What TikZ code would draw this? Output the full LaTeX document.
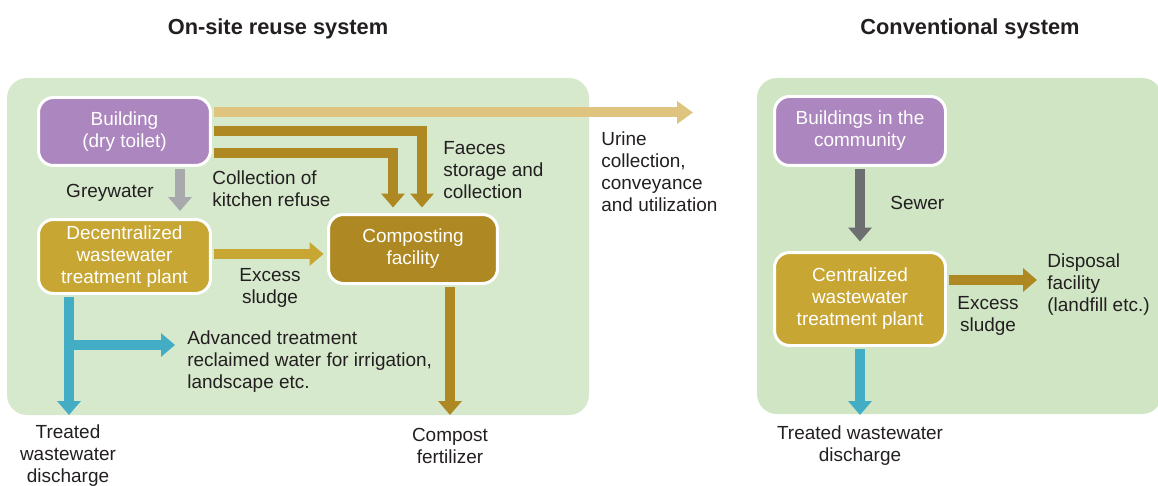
\documentclass[tikz,border=0pt]{standalone}
\usepackage{fontspec}
\setmainfont{Liberation Sans}
\usetikzlibrary{arrows.meta, positioning, calc}
\definecolor{panelleft}{RGB}{214, 233, 205}
\definecolor{panelright}{RGB}{207, 229, 196}
\definecolor{toiletpurple}{RGB}{172, 134, 190}
\definecolor{plantgold}{RGB}{200, 166, 52}
\definecolor{compostgold}{RGB}{174, 137, 35}
\definecolor{urinetan}{RGB}{222, 196, 126}
\definecolor{greywatergray}{RGB}{167, 169, 172}
\definecolor{sewergray}{RGB}{109, 110, 113}
\definecolor{waterblue}{RGB}{66, 173, 197}
\definecolor{inkgray}{RGB}{35, 31, 32}

\begin{document}
\begin{tikzpicture}[
  x=0.02cm, y=-0.02cm,
  every node/.style={font=\fontsize{10.8}{12.5}\selectfont, text=inkgray},
  box/.style={
    draw=white, line width=1.7pt, rounded corners=0.3cm,
    text=white, align=center, inner sep=0pt
  },
  title/.style={font=\bfseries\fontsize{12.4}{15}\selectfont},
  note/.style={align=left, anchor=west, inner sep=0pt},
  cnote/.style={align=center, inner sep=0pt},
  flow/.style={line width=0.2cm, -{Triangle[length=0.28cm, width=0.46cm]}},
  panel/.style={rounded corners=0.4cm}
]

  % Sfondi dei due sistemi
  \useasboundingbox (0,0) rectangle (1158,486);
  \fill[panelleft, panel] (7,78) rectangle (589,415);
  \fill[panelright, panel] (757,78) rectangle (1162,414);

  % Titoli
  \node[title] (titleL) at (278,29) {On-site reuse system};
  \node[title] (titleR) at (970,29) {Conventional system};

  % Nodi principali (sistema in loco)
  \node[box, fill=toiletpurple, minimum width=3.44cm, minimum height=1.36cm] (bld) at (124.5,131.5) {Building\\(dry toilet)};
  \node[box, fill=plantgold, minimum width=3.44cm, minimum height=1.48cm] (dec) at (124.5,256.5) {Decentralized\\wastewater\\treatment plant};
  \node[box, fill=compostgold, minimum width=3.38cm, minimum height=1.38cm] (comp) at (413,249) {Composting\\facility};

  % Nodi principali (sistema convenzionale)
  \node[box, fill=toiletpurple, minimum width=3.42cm, minimum height=1.38cm] (comm) at (860,131) {Buildings in the\\community};
  \node[box, fill=plantgold, minimum width=3.42cm, minimum height=1.86cm] (cen) at (860,299) {Centralized\\wastewater\\treatment plant};

  % Estremi liberi delle frecce
  \coordinate (urineend) at (693,112.5);
  \coordinate (branch) at (69,345);
  \coordinate (reclaimend) at (175,345);
  \coordinate (treatend) at (69,415);
  \coordinate (compostend) at (450,415);
  \coordinate (disposalend) at (1037,280);
  \coordinate (dischargeend) at (860,415);

  % Frecce dall'edificio
  \draw[flow, urinetan, -{Triangle[length=0.32cm, width=0.44cm]}, shorten <=1pt] (bld.east |- urineend) -- (urineend);
  \draw[flow, compostgold, shorten <=1pt, shorten >=0.11cm] (bld.east) -| ($(comp.north)+(9,0)$);
  \draw[flow, compostgold, shorten <=1pt, shorten >=0.11cm] ($(bld.east)+(0,21.5)$) -| ($(comp.north)+(-20,0)$);
  \draw[flow, greywatergray, shorten <=1pt, shorten >=0.14cm] ($(bld.south)+(55.5,0)$) -- ($(dec.north)+(55.5,0)$);

  % Fanghi e compost
  \draw[flow, plantgold, shorten <=1pt, shorten >=0.07cm] ($(dec.east)+(0,-2.5)$) -- ($(dec.east -| comp.west)+(0,-2.5)$);
  \draw[flow, compostgold, shorten <=1pt] (comp.south -| compostend) -- (compostend);

  % Acqua trattata
  \draw[flow, waterblue, shorten <=1pt] (dec.south -| treatend) -- (treatend);
  \draw[flow, waterblue] (branch) -- (reclaimend);

  % Sistema convenzionale
  \draw[flow, sewergray, shorten <=1pt, shorten >=0.19cm] (comm.south) -- (cen.north);
  \draw[flow, compostgold, shorten <=1pt] (cen.east |- disposalend) -- (disposalend);
  \draw[flow, waterblue, shorten <=1pt] (cen.south) -- (dischargeend);

  % Etichette
  \node[cnote] (greylbl) at (110,193) {Greywater};
  \node[note] (kitchenlbl) at (212,189) {Collection of\\kitchen refuse};
  \node[note] (faeceslbl) at (443,170) {Faeces\\storage and\\collection};
  \node[note] (urinelbl) at (601,171.5) {Urine\\collection,\\conveyance\\and utilization};
  \node[cnote] (sludgelbl) at (270,288) {Excess\\sludge};
  \node[note] (reclaimlbl) at (187,362) {Advanced treatment\\reclaimed water for irrigation,\\landscape etc.};
  \node[cnote] (treatlbl) at (68,456) {Treated\\wastewater\\discharge};
  \node[cnote] (compostlbl) at (450,446) {Compost\\fertilizer};
  \node[note] (sewerlbl) at (890,203) {Sewer};
  \node[cnote] (sludgelblR) at (988,316) {Excess\\sludge};
  \node[note] (disposallbl) at (1047,285) {Disposal\\facility\\(landfill etc.)};
  \node[cnote] (dischargelbl) at (860,446) {Treated wastewater\\discharge};

\end{tikzpicture}
\end{document}
